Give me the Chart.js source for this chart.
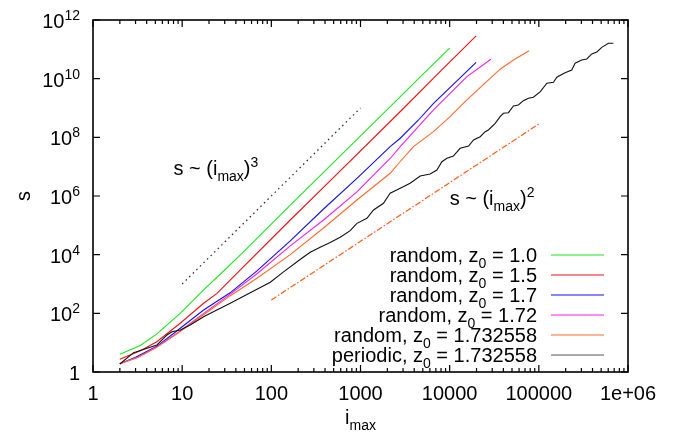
<!DOCTYPE html>
<html>
<head>
<meta charset="utf-8">
<script src="https://cdn.jsdelivr.net/npm/chart.js@4.4.0/dist/chart.umd.min.js"></script>
<style>
  html, body { margin: 0; padding: 0; background: #fff; }
</style>
</head>
<body>
<canvas id="sizeChart" width="682" height="435"></canvas>
<script>
// random, z0 = 1.0
const imaxZ10 = [2, 3.4, 5.2, 9.5, 17.4, 30, 45, 163, 500, 1980, 5000, 10000];
const sZ10 = [4.0, 8, 20, 100, 630, 3000, 9800, 4.9e5, 1.4e7, 8.6e8, 1.4e10, 1.1e11];
// random, z0 = 1.5
const imaxZ15 = [2, 3.4, 5.2, 9.5, 17.4, 24.6, 47, 163, 500, 2910, 8000, 19800];
const sZ15 = [2.7, 5.3, 10.8, 46, 220, 480, 3500, 1.52e5, 4.35e6, 8.55e8, 1.89e10, 2.86e11];
// random, z0 = 1.7
const imaxZ17 = [2, 3, 5.2, 8.4, 17.4, 34.5, 69, 163, 385, 912, 2150, 2790, 4470, 6600, 19800];
const sZ17 = [1.9, 3.2, 7.5, 23, 130, 500, 2800, 2.97e4, 3.6e5, 4.0e6, 4.8e7, 9.3e7, 3.9e8, 1.45e9, 3.6e10];
// random, z0 = 1.72
const imaxZ172 = [2, 3.2, 5.2, 9.5, 17.4, 34.7, 69, 163, 385, 912, 2150, 2790, 6580, 15600, 29000];
const sZ172 = [1.9, 3.2, 7.2, 25, 100, 450, 2240, 2.0e4, 1.52e5, 1.39e6, 1.9e7, 4.8e7, 8.6e8, 1.17e10, 4.6e10];
// random, z0 = 1.732558
const imaxZc = [2, 3.2, 5.2, 9.5, 17.4, 34.7, 69, 163, 385, 912, 2150, 2790, 3930, 6580, 10100, 15600, 23900, 36800, 51900, 77800];
const sZc = [1.9, 3.2, 6.9, 24, 89, 400, 1580, 1.0e4, 8.1e4, 7.3e5, 5.97e6, 1.5e7, 4.8e7, 1.56e8, 5.06e8, 1.88e9, 6.3e9, 2.1e10, 4.35e10, 9.0e10];
// periodic, z0 = 1.732558
const imaxPer = [2, 2.85, 5.21, 6.76, 7.69, 9.53, 12.3, 17.4, 24.5, 34.6, 48.8, 69.0, 97.3, 137, 212, 273, 353, 457, 592, 766,
  912, 1180, 1400, 1810, 2150, 2790, 3600, 4670, 6040, 7190, 8180, 9310, 11000, 13100, 16300, 18500, 22000, 25000, 27200, 32400,
  36800, 40100, 45600, 51900, 59000, 67100, 76400, 86900, 104000, 123000, 146000, 159000, 197000, 234000, 255000, 303000, 345000,
  393000, 447000, 508000, 603000, 686000];
const sPer = [1.87, 4.55, 8.34, 18.3, 23.7, 27.0, 40.0, 76.7, 130, 220, 380, 660, 1150, 2600, 7000, 1.2e4, 1.8e4, 2.6e4, 3.9e4, 6.6e4,
  1.17e5, 1.74e5, 3.33e5, 5.65e5, 1.24e6, 1.83e6, 2.72e6, 4.82e6, 5.64e6, 7.71e6, 1.48e7, 1.93e7, 2.31e7, 4.24e7, 5.07e7, 8.13e7,
  1.05e8, 1.56e8, 1.78e8, 3.01e8, 5.06e8, 6.61e8, 6.93e8, 1.17e9, 1.27e9, 1.78e9, 2.15e9, 2.32e9, 3.61e9, 6.97e9, 7.53e9, 1.12e10,
  1.60e10, 1.98e10, 3.35e10, 4.35e10, 4.70e10, 6.95e10, 8.13e10, 1.17e11, 1.61e11, 1.61e11];

// guide lines s ~ imax^3 and s ~ imax^2
const cubeGuideX = [10, 1000];
const cubeGuideS = [1000, 1e9];
const squareGuideX = [100, 100000];
const squareGuideS = [285, 2.85e8];

const seriesKinds = ['random', 'random', 'random', 'random', 'random', 'periodic'];
const seriesZ0 = ['1.0', '1.5', '1.7', '1.72', '1.732558', '1.732558'];
const seriesX = [imaxZ10, imaxZ15, imaxZ17, imaxZ172, imaxZc, imaxPer];
const seriesS = [sZ10, sZ15, sZ17, sZ172, sZc, sPer];
const seriesColors = ['#1ee81e', '#f01010', '#1010f0', '#f020f0', '#ff6a2a', '#111111'];

const xTickValues = [1, 10, 100, 1000, 10000, 100000, 1000000];
const xTickLabels = ['1', '10', '100', '1000', '10000', '100000', '1e+06'];
const xMinorSteps = [2, 3, 4, 5, 6, 7, 8, 9];
const yTickValues = [1, 1e2, 1e4, 1e6, 1e8, 1e10, 1e12];
const yTickBases = ['1', '10', '10', '10', '10', '10', '10'];
const yTickExponents = ['', '2', '4', '6', '8', '10', '12'];

// label anchors in data coordinates (imax, s)
const cubeNoteAt = [8, 5.2e6];
const squareNoteAt = [10000, 4.9e5];

const BASE = 20, SMALL = 14;
const font = size => size + 'px "Liberation Sans", Arial, Helvetica, sans-serif';
const N = t => ({ text: t, size: BASE, dy: 0 });
const SUB = t => ({ text: t, size: SMALL, dy: 6 });
const SUP = t => ({ text: t, size: SMALL, dy: -8 });

function richWidth(ctx, parts) {
  let w = 0;
  parts.forEach(p => { ctx.font = font(p.size); w += ctx.measureText(p.text).width; });
  return w;
}

function drawRich(ctx, parts, x, baseline, align) {
  const w = richWidth(ctx, parts);
  let cx = align === 'right' ? x - w : align === 'center' ? x - w / 2 : x;
  ctx.textAlign = 'left';
  ctx.textBaseline = 'alphabetic';
  parts.forEach(p => {
    ctx.font = font(p.size);
    ctx.fillText(p.text, cx, baseline + p.dy);
    cx += ctx.measureText(p.text).width;
  });
}

const toPoints = (xs, ys) => xs.map((x, i) => ({ x: x, y: ys[i] }));

const datasets = seriesX.map((xs, i) => ({
  label: seriesKinds[i] + ', z0 = ' + seriesZ0[i],
  data: toPoints(xs, seriesS[i]),
  borderColor: seriesColors[i],
  borderWidth: 1.1,
  pointRadius: 0,
  fill: false,
  tension: 0,
  order: seriesX.length - i,
  legendIndex: i
}));

datasets.push({
  label: 's ~ imax^3',
  data: toPoints(cubeGuideX, cubeGuideS),
  borderColor: '#222',
  borderWidth: 1.2,
  borderDash: [1.5, 3.5],
  pointRadius: 0,
  order: 10
});
datasets.push({
  label: 's ~ imax^2',
  data: toPoints(squareGuideX, squareGuideS),
  borderColor: '#ff5a1a',
  borderWidth: 1.2,
  borderDash: [6, 2, 1.5, 2],
  pointRadius: 0,
  order: 10
});

const frame = {
  id: 'frame',
  afterDraw(chart) {
    const ctx = chart.ctx;
    const a = chart.chartArea;
    const x = chart.scales.x, y = chart.scales.y;
    ctx.save();

    // ticks on all four sides, pointing inward
    ctx.strokeStyle = '#000';
    ctx.lineWidth = 1.2;
    ctx.beginPath();
    xTickValues.forEach((v, i) => {
      const px = x.getPixelForValue(v);
      ctx.moveTo(px, a.bottom); ctx.lineTo(px, a.bottom - 7);
      ctx.moveTo(px, a.top); ctx.lineTo(px, a.top + 7);
      if (i < xTickValues.length - 1) {
        xMinorSteps.forEach(m => {
          const mx = x.getPixelForValue(v * m);
          ctx.moveTo(mx, a.bottom); ctx.lineTo(mx, a.bottom - 4);
          ctx.moveTo(mx, a.top); ctx.lineTo(mx, a.top + 4);
        });
      }
    });
    yTickValues.forEach(v => {
      const py = y.getPixelForValue(v);
      ctx.moveTo(a.left, py); ctx.lineTo(a.left + 7, py);
      ctx.moveTo(a.right, py); ctx.lineTo(a.right - 7, py);
    });
    ctx.stroke();

    ctx.lineWidth = 1.6;
    ctx.strokeRect(a.left, a.top, a.right - a.left, a.bottom - a.top);

    ctx.fillStyle = '#000';
    // x tick labels
    xTickValues.forEach((v, i) => {
      drawRich(ctx, [N(xTickLabels[i])], x.getPixelForValue(v), a.bottom + 28, 'center');
    });
    // y tick labels
    yTickValues.forEach((v, i) => {
      const py = y.getPixelForValue(v);
      const parts = yTickExponents[i] ? [N(yTickBases[i]), SUP(yTickExponents[i])] : [N(yTickBases[i])];
      drawRich(ctx, parts, a.left - 13, py + 8, 'right');
    });

    // axis titles
    drawRich(ctx, [N('i'), SUB('max')], (a.left + a.right) / 2, 424, 'center');
    ctx.save();
    ctx.translate(30, (a.top + a.bottom) / 2);
    ctx.rotate(-Math.PI / 2);
    drawRich(ctx, [N('s')], 0, 0, 'center');
    ctx.restore();

    // power law notes
    drawRich(ctx, [N('s ~ (i'), SUB('max'), N(')'), SUP('3')],
      x.getPixelForValue(cubeNoteAt[0]), y.getPixelForValue(cubeNoteAt[1]), 'left');
    drawRich(ctx, [N('s ~ (i'), SUB('max'), N(')'), SUP('2')],
      x.getPixelForValue(squareNoteAt[0]), y.getPixelForValue(squareNoteAt[1]), 'left');

    // legend
    chart.data.datasets.forEach(ds => {
      if (ds.legendIndex === undefined) return;
      const rowY = 255 + ds.legendIndex * 20;
      drawRich(ctx, [N(seriesKinds[ds.legendIndex] + ', z'), SUB('0'), N(' = ' + seriesZ0[ds.legendIndex])],
        537, rowY + 7, 'right');
      ctx.strokeStyle = ds.legendIndex === 5 ? '#555' : ds.borderColor;
      ctx.lineWidth = 1.2;
      ctx.beginPath();
      ctx.moveTo(551, rowY);
      ctx.lineTo(604, rowY);
      ctx.stroke();
    });

    ctx.restore();
  }
};

new Chart(document.getElementById('sizeChart').getContext('2d'), {
  type: 'line',
  data: { datasets: datasets },
  options: {
    responsive: false,
    animation: false,
    parsing: false,
    layout: { padding: { left: 93, right: 54, top: 20, bottom: 63 } },
    plugins: {
      legend: { display: false },
      tooltip: { enabled: false }
    },
    scales: {
      x: { type: 'logarithmic', min: 1, max: 1e6, display: false },
      y: { type: 'logarithmic', min: 1, max: 1e12, display: false }
    }
  },
  plugins: [frame]
});
</script>
</body>
</html>
